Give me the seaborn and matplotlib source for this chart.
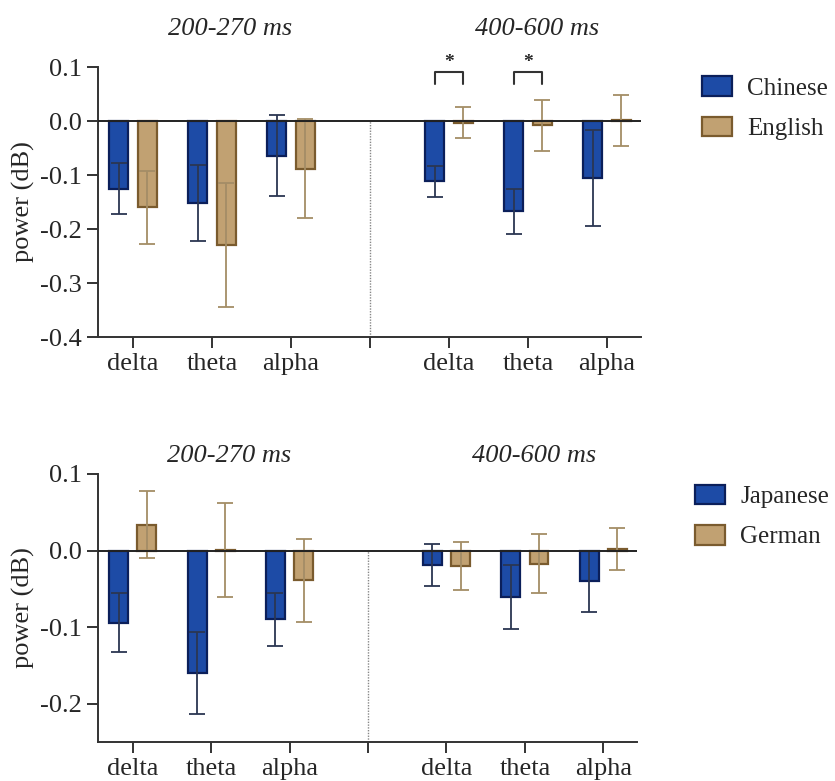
import matplotlib
matplotlib.use("Agg")
import matplotlib.pyplot as plt
from matplotlib.patches import Patch
import numpy as np
import pandas as pd
import seaborn as sns

# Frequency bands and time windows
bands = ["delta", "theta", "alpha"]
windows = ["200-270 ms", "400-600 ms"]
tick_labels = ["delta", "theta", "alpha", "", "delta", "theta", "alpha"]

# Panel A: Chinese vs English (mean power change and error, per window x band)
chinese_mean = [-0.125, -0.152, -0.064, -0.112, -0.167, -0.106]
chinese_err = [0.048, 0.070, 0.075, 0.028, 0.042, 0.089]
english_mean = [-0.160, -0.230, -0.088, -0.003, -0.008, 0.001]
english_err = [0.067, 0.115, 0.092, 0.029, 0.047, 0.047]

# Panel B: Japanese vs German
japanese_mean = [-0.094, -0.160, -0.090, -0.019, -0.061, -0.040]
japanese_err = [0.038, 0.054, 0.035, 0.027, 0.042, 0.040]
german_mean = [0.034, 0.001, -0.039, -0.020, -0.017, 0.002]
german_err = [0.044, 0.061, 0.054, 0.031, 0.039, 0.028]

# Significant pairs in panel A (slot index)
sig_slots = [3, 4]

BLUE_FILL, BLUE_EDGE, BLUE_ERR = "#1d4ba6", "#0b1f5a", "#2b3652"
TAN_FILL, TAN_EDGE, TAN_ERR = "#c1a172", "#7a5b2e", "#a48d66"
AX_COLOR = "#333333"

slots = [f"{w} {b}" for w in windows for b in bands]
order = slots[:3] + ["gap"] + slots[3:]

sns.set_theme(style="white")
plt.rcParams["font.family"] = ["Liberation Serif", "DejaVu Serif"]
plt.rcParams["axes.edgecolor"] = AX_COLOR
plt.rcParams["axes.linewidth"] = 1.4

FS = 19
LEG_FS = 18

fig = plt.figure(figsize=(8.35, 7.81), dpi=100)
ax_top = fig.add_axes([98 / 835, 1 - 337 / 781, 543 / 835, 270 / 781])
ax_bot = fig.add_axes([98 / 835, 1 - 742 / 781, 539 / 835, 268 / 781])


def draw_panel(ax, names, means, errs, ylim, yticks, title_y, legend_xy):
    df = pd.DataFrame({
        "slot": slots * 2,
        "group": [names[0]] * 6 + [names[1]] * 6,
        "power": list(means[0]) + list(means[1]),
    })
    sns.barplot(data=df, x="slot", y="power", hue="group", order=order,
                hue_order=names, palette=[BLUE_FILL, TAN_FILL], saturation=1,
                width=0.72, gap=0.33, errorbar=None, legend=False, ax=ax,
                zorder=2)
    centers = []
    for cont, edge, ecol, err in zip(ax.containers, [BLUE_EDGE, TAN_EDGE],
                                     [BLUE_ERR, TAN_ERR], errs):
        patches = sorted(cont.patches, key=lambda p: p.get_x())
        xs, ys = [], []
        for p in patches:
            p.set_edgecolor(edge)
            p.set_linewidth(1.6)
            xs.append(p.get_x() + p.get_width() / 2)
            ys.append(p.get_y() + p.get_height())
        ax.errorbar(xs, ys, yerr=err, fmt="none", ecolor=ecol, elinewidth=1.3,
                    capsize=6, capthick=1.3, zorder=3)
        centers.append(xs)

    ax.set_xlim(-0.443, 6.43)
    ax.set_ylim(*ylim)
    ax.set_yticks(yticks)
    ax.set_yticklabels([f"{t:.1f}" for t in yticks])
    ax.set_xticks(range(7))
    ax.set_xticklabels(tick_labels)
    ax.set_xlabel("")
    ax.set_ylabel("power (dB)", fontsize=FS, labelpad=4)
    ax.tick_params(axis="both", labelsize=FS, length=8, width=1.4,
                   color=AX_COLOR, pad=3.5, direction="out",
                   bottom=True, left=True)
    sns.despine(ax=ax)
    ax.axhline(0, color="#222222", lw=1.4, zorder=4)
    ax.plot([3, 3], [ylim[0], 0], ls=(0, (1, 1)), color="#888888", lw=1.0,
            zorder=1)

    for x, w in zip([1.23, 5.12], windows):
        ax.text(x, title_y, w, ha="center", va="center", fontsize=FS,
                style="italic", clip_on=False)

    handles = [Patch(facecolor=BLUE_FILL, edgecolor=BLUE_EDGE, lw=1.6, label=names[0]),
               Patch(facecolor=TAN_FILL, edgecolor=TAN_EDGE, lw=1.6, label=names[1])]
    ax.legend(handles=handles, loc="upper left", bbox_to_anchor=legend_xy,
              frameon=False, fontsize=LEG_FS, handlelength=1.2, handleheight=0.84,
              handletextpad=0.6, labelspacing=0.66, borderaxespad=0,
              borderpad=0)
    return centers


c_top = draw_panel(ax_top, ["Chinese", "English"],
                   [chinese_mean, english_mean], [chinese_err, english_err],
                   (-0.4, 0.1), [0.1, 0.0, -0.1, -0.2, -0.3, -0.4], 0.171,
                   (1.112, 0.965))

# Significance brackets between the paired bars
for i in sig_slots:
    x0, x1 = c_top[0][i], c_top[1][i]
    ax_top.plot([x0, x0, x1, x1], [0.069, 0.090, 0.090, 0.069], color="#333333",
                lw=1.5, clip_on=False, zorder=5)
    ax_top.text((x0 + x1) / 2, 0.108, "*", ha="center", va="center",
                fontsize=14, fontweight="bold", clip_on=False)

draw_panel(ax_bot, ["Japanese", "German"],
           [japanese_mean, german_mean], [japanese_err, german_err],
           (-0.25, 0.1), [0.1, 0.0, -0.1, -0.2], 0.124, (1.108, 0.96))

fig.savefig("out.png", dpi=100)
